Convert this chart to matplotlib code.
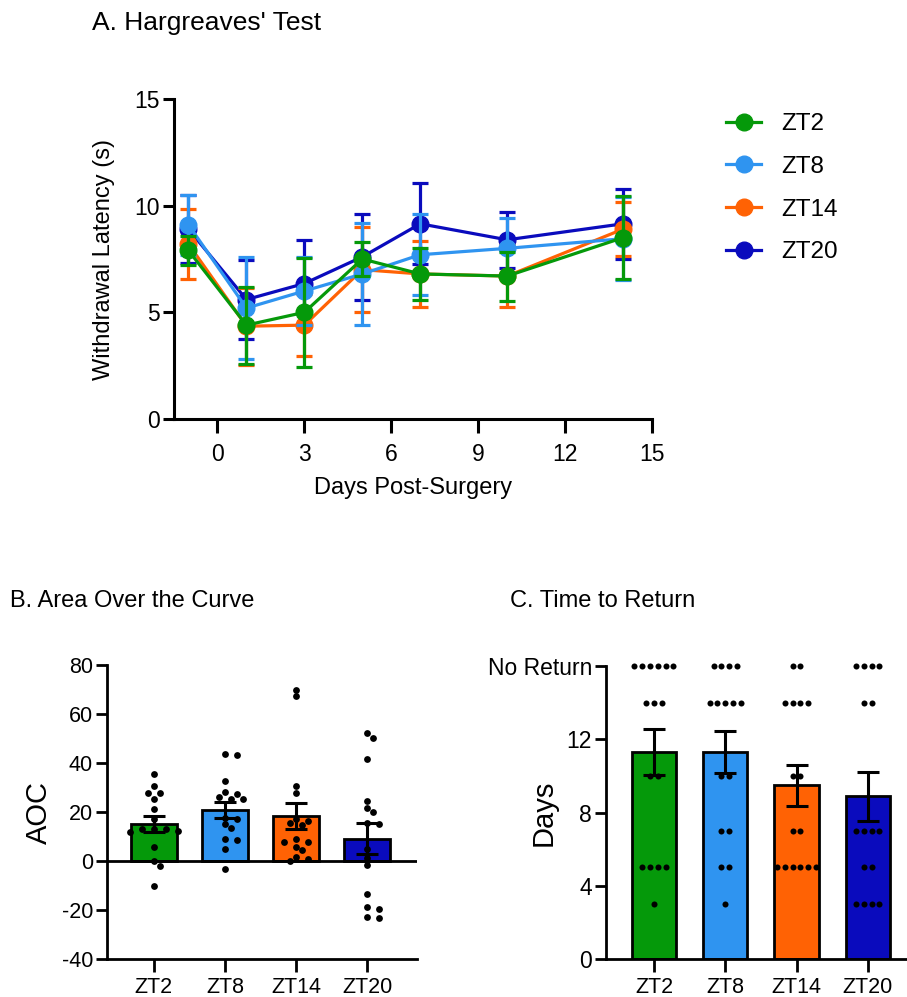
import numpy as np
import matplotlib
matplotlib.use('Agg')
import matplotlib.pyplot as plt
from matplotlib.lines import Line2D

plt.rcParams['font.family'] = ['Liberation Sans', 'DejaVu Sans']
plt.rcParams['axes.unicode_minus'] = False
NARROW = ['Liberation Sans Narrow', 'Liberation Sans', 'DejaVu Sans']

# ---- data ----
groups = ['ZT2', 'ZT8', 'ZT14', 'ZT20']
colors = ['#05990a', '#2f94f0', '#ff6204', '#0a0bbd']

days = [-1, 1, 3, 5, 7, 10, 14]
zt2_mean = [7.9, 4.4, 5.0, 7.5, 6.8, 6.7, 8.5]
zt2_sem = [0.7, 1.8, 2.55, 0.8, 1.2, 1.15, 1.95]
zt8_mean = [9.1, 5.2, 6.0, 6.8, 7.7, 8.0, 8.45]
zt8_sem = [1.4, 2.4, 1.6, 2.4, 1.9, 1.4, 1.95]
zt14_mean = [8.2, 4.35, 4.4, 7.0, 6.8, 6.7, 8.9]
zt14_sem = [1.65, 1.8, 1.45, 2.0, 1.55, 1.45, 1.25]
zt20_mean = [8.9, 5.6, 6.35, 7.6, 9.15, 8.4, 9.15]
zt20_sem = [1.6, 1.85, 2.05, 2.0, 1.9, 1.3, 1.65]

zt2_aoc = [35.6, 30.5, 27.9, 27.6, 25.4, 21.1, 17.0, 13.0, 12.9, 12.9, 12.2, 12.0, 5.9, 0.0, -2.0, -10.2]
zt8_aoc = [43.7, 43.4, 32.5, 28.3, 27.5, 26.3, 25.4, 25.2, 17.7, 17.1, 15.0, 13.3, 9.0, 8.6, 4.9, -3.4]
zt14_aoc = [70.0, 67.3, 30.6, 27.6, 17.0, 16.5, 15.6, 14.7, 8.8, 7.6, 7.6, 5.9, 4.5, 1.5, 0.8, 0.0]
zt20_aoc = [52.1, 50.3, 41.5, 24.4, 21.5, 19.9, 15.5, 15.0, 4.8, 1.1, -1.6, -13.5, -18.9, -19.7, -22.7, -23.1]

NO_RETURN = 16
zt2_ret = [16, 16, 16, 16, 16, 16, 14, 14, 14, 10, 10, 5, 5, 5, 5, 3]
zt8_ret = [16, 16, 16, 16, 14, 14, 14, 14, 14, 10, 10, 7, 7, 5, 5, 3]
zt14_ret = [16, 16, 14, 14, 14, 14, 10, 10, 7, 7, 5, 5, 5, 5, 5, 5]
zt20_ret = [16, 16, 16, 16, 14, 14, 7, 7, 7, 7, 5, 5, 3, 3, 3, 3]

W, H = 907, 997
fig = plt.figure(figsize=(W / 100, H / 100), dpi=100)


def frac(left, right, top, bottom):
    return [left / W, 1 - bottom / H, (right - left) / W, (bottom - top) / H]


def style(ax, lw=2.0):
    for s in ['top', 'right']:
        ax.spines[s].set_visible(False)
    for s in ['left', 'bottom']:
        ax.spines[s].set_linewidth(lw)
        ax.spines[s].set_capstyle('projecting')
    ax.tick_params(width=lw, direction='out')


# ---- A: line chart ----
axA = fig.add_axes(frac(174, 652, 99, 419))
style(axA, 2.2)
means = [zt2_mean, zt8_mean, zt14_mean, zt20_mean]
sems = [zt2_sem, zt8_sem, zt14_sem, zt20_sem]
for i in [3, 2, 1, 0]:
    axA.errorbar(days, means[i], yerr=sems[i], color=colors[i], marker='o', ms=12,
                 lw=2.3, elinewidth=2.3, capsize=6, capthick=2.3, zorder=3 + (3 - i), clip_on=False)
axA.set_xlim(-1.5, 15)
axA.set_ylim(0, 15)
axA.set_xticks([0, 3, 6, 9, 12, 15])
axA.set_yticks([0, 5, 10, 15])
axA.tick_params(axis='x', length=10, labelsize=16.5, pad=7)
axA.tick_params(axis='y', length=8, labelsize=16.5, pad=2)
axA.set_xlabel('Days Post-Surgery', fontsize=17, labelpad=8)
axA.set_ylabel('Withdrawal Latency (s)', fontsize=17, labelpad=14)

handles = [Line2D([], [], color=c, marker='o', ms=12, lw=2.3) for c in colors]
fig.legend(handles, groups, loc='upper left', bbox_to_anchor=(714 / W, 1 - 101 / H), frameon=False,
           fontsize=17.5, handlelength=1.45, handletextpad=0.8, labelspacing=0.85, borderpad=0)

fig.text(92 / W, 1 - 23 / H, "A. Hargreaves' Test", fontsize=19, va='center', ha='left')


# ---- B: AOC bars with swarm ----
def swarm(values, px_x, px_y, step=5.9, dist=6.6):
    order = np.argsort(values)[::-1]
    placed = []
    offs = np.zeros(len(values))
    for k in order:
        y = values[k] * px_y
        for m in range(0, 20):
            cands = [0.0] if m == 0 else [m * step, -m * step]
            ok = None
            for c in cands:
                if all((c - px) ** 2 + (y - py) ** 2 >= dist ** 2 for px, py in placed):
                    ok = c
                    break
            if ok is not None:
                break
        placed.append((ok, y))
        offs[k] = ok / px_x
    return offs


axB = fig.add_axes(frac(107, 417, 665, 959))
style(axB)
aoc = [zt2_aoc, zt8_aoc, zt14_aoc, zt20_aoc]
xpos = np.arange(4)
b_px_x = 310 / 4.36
b_px_y = 294 / 120
for i in range(4):
    v = np.array(aoc[i])
    m = v.mean()
    se = v.std(ddof=1) / np.sqrt(len(v))
    axB.bar(xpos[i], m, width=0.65, color=colors[i], edgecolor='black', linewidth=2, zorder=2)
    axB.errorbar(xpos[i], m, yerr=se, color='black', capsize=8, capthick=2.2, elinewidth=2.2, zorder=4)
    axB.scatter(xpos[i] + swarm(v, b_px_x, b_px_y), v, s=24, color='black', zorder=5, linewidths=0)
axB.axhline(0, color='black', lw=2, zorder=3)
axB.set_xlim(-0.66, 3.70)
axB.set_ylim(-40, 80)
axB.set_yticks([-40, -20, 0, 20, 40, 60, 80])
axB.set_xticks(xpos)
axB.set_xticklabels(groups, fontfamily=NARROW)
axB.tick_params(axis='y', length=8, labelsize=15.5, pad=2)
axB.tick_params(axis='x', length=9, labelsize=15.5, pad=4)
axB.set_ylabel('AOC', fontsize=21, fontfamily=NARROW, labelpad=6)
fig.text(10 / W, 1 - 601 / H, 'B. Area Over the Curve', fontsize=17, fontfamily=NARROW, va='center', ha='left')

# ---- C: time to return ----
axC = fig.add_axes(frac(606, 907, 666, 959))
style(axC)
ret = [zt2_ret, zt8_ret, zt14_ret, zt20_ret]
c_px_x = 301 / 4.223
for i in range(4):
    v = np.array(ret[i], dtype=float)
    m = v.mean()
    se = v.std(ddof=1) / np.sqrt(len(v))
    axC.bar(xpos[i], m, width=0.62, color=colors[i], edgecolor='black', linewidth=2, zorder=2)
    axC.errorbar(xpos[i], m, yerr=se, color='black', capsize=8, capthick=2.2, elinewidth=2.2, zorder=4)
    xs = np.zeros(len(v))
    for val in np.unique(v):
        idx = np.where(v == val)[0]
        n = len(idx)
        xs[idx] = (np.arange(n) - (n - 1) / 2) * 7.8 / c_px_x
    axC.scatter(xpos[i] + xs, v, s=19, color='black', zorder=5, linewidths=0, clip_on=False)
axC.set_xlim(-0.673, 3.55)
axC.set_ylim(0, NO_RETURN)
axC.set_yticks([0, 4, 8, 12, NO_RETURN])
axC.set_yticklabels(['0', '4', '8', '12', 'No Return'])
axC.set_xticks(xpos)
axC.set_xticklabels(groups, fontfamily=NARROW)
axC.tick_params(axis='y', length=8, labelsize=16.5, pad=2)
axC.tick_params(axis='x', length=9, labelsize=15.5, pad=4)
axC.set_ylabel('Days', fontsize=21)
axC.yaxis.set_label_coords(-0.16, 0.5)
fig.text(510 / W, 1 - 601 / H, 'C. Time to Return', fontsize=17, fontfamily=NARROW, va='center', ha='left')

fig.savefig('out.png', dpi=100)
